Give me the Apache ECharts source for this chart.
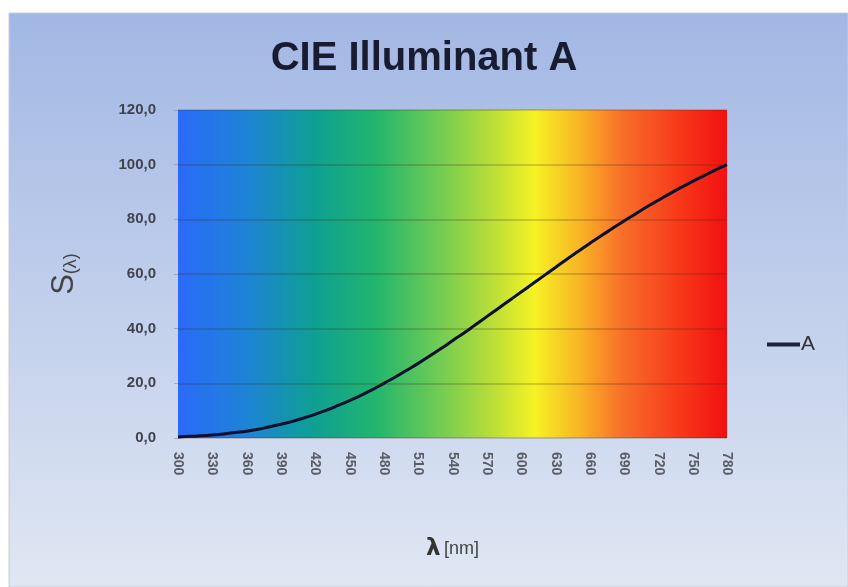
<!DOCTYPE html>
<html>
<head>
<meta charset="utf-8">
<title>CIE Illuminant A</title>
<script src="https://cdn.jsdelivr.net/npm/echarts@6/dist/echarts.min.js"></script>
<style>
  html, body { margin: 0; padding: 0; background: #fff; }
  #chart { width: 848px; height: 587px; }
</style>
</head>
<body>
<div id="chart"></div>
<script>
// wavelengths (nm) and relative power
const wavelengths = [300, 310, 320, 330, 340, 350, 360, 370, 380, 390, 400, 410, 420, 430, 440, 450, 460, 470, 480, 490, 500,
  510, 520, 530, 540, 550, 560, 570, 580, 590, 600, 610, 620, 630, 640, 650, 660, 670, 680, 690, 700, 710, 720, 730, 740, 750,
  760, 770, 780];
const valuesA = [0.4, 0.6, 0.8, 1.1, 1.5, 2.0, 2.5, 3.2, 4.1, 5.0, 6.1, 7.3, 8.7, 10.2, 11.9, 13.7, 15.6, 17.7, 20.0, 22.3, 24.8,
  27.3, 30.0, 32.7, 35.6, 38.4, 41.4, 44.4, 47.4, 50.4, 53.4, 56.4, 59.4, 62.4, 65.4, 68.3, 71.2, 74.0, 76.7, 79.4, 82.0, 84.6,
  87.0, 89.4, 91.7, 93.9, 96.0, 98.1, 100.0];
const yTicks = [0, 20, 40, 60, 80, 100, 120];

const chart = echarts.init(document.getElementById('chart'));

// spectrum behind the plot
const spectrum = new echarts.graphic.LinearGradient(0, 0, 1, 0, [
  { offset: 0.00, color: '#2a6af8' },
  { offset: 0.12, color: '#1e82d8' },
  { offset: 0.25, color: '#0ea092' },
  { offset: 0.36, color: '#22b56e' },
  { offset: 0.46, color: '#66c958' },
  { offset: 0.56, color: '#b0db3c' },
  { offset: 0.65, color: '#f6f224' },
  { offset: 0.73, color: '#f8b624' },
  { offset: 0.81, color: '#f86e2a' },
  { offset: 0.91, color: '#f73a1a' },
  { offset: 1.00, color: '#f21010' }
]);

const option = {
  backgroundColor: '#ffffff',
  animation: false,
  graphic: [{
    type: 'rect',
    z: -10,
    shape: { x: 9, y: 13, width: 839, height: 574 },
    style: {
      fill: new echarts.graphic.LinearGradient(0, 0, 0, 1, [
        { offset: 0, color: '#a2b7e4' },
        { offset: 1, color: '#e0e7f3' }
      ]),
      stroke: '#c8ccd4',
      lineWidth: 1
    }
  }],
  title: {
    text: 'CIE Illuminant A',
    left: 'center',
    top: 34,
    textStyle: {
      fontFamily: 'Liberation Sans',
      fontSize: 40,
      fontWeight: 'bold',
      color: '#191c30'
    }
  },
  legend: {
    left: 762,
    top: 329,
    icon: 'rect',
    itemWidth: 33,
    itemHeight: 4,
    itemGap: 4,
    textStyle: { fontFamily: 'Liberation Sans', fontSize: 21, color: '#333', padding: [0, 0, 0, -4] }
  },
  grid: {
    left: 178,
    right: 121,
    top: 110,
    bottom: 149,
    show: true,
    borderWidth: 0,
    backgroundColor: spectrum
  },
  xAxis: {
    type: 'value',
    min: 300,
    max: 780,
    interval: 30,
    name: '{l|λ} {u|[nm]}',
    nameLocation: 'middle',
    nameGap: 100,
    nameTextStyle: {
      rich: {
        l: { fontFamily: 'DejaVu Sans', fontSize: 23, fontWeight: 'bold', color: '#333' },
        u: { fontFamily: 'Liberation Sans', fontSize: 18, color: '#444' }
      }
    },
    axisLine: { show: false },
    axisTick: { show: false },
    splitLine: { show: false },
    axisLabel: {
      rotate: -90,
      margin: 14,
      fontFamily: 'Liberation Sans',
      fontSize: 14,
      fontWeight: 'bold',
      color: '#5a5d66'
    }
  },
  yAxis: {
    type: 'value',
    min: yTicks[0],
    max: yTicks[yTicks.length - 1],
    interval: 20,
    name: '{s|S}{sub|(λ)}',
    nameLocation: 'middle',
    nameGap: 98,
    nameRotate: 90,
    nameTextStyle: {
      rich: {
        s: { fontFamily: 'Liberation Sans', fontSize: 31, color: '#444' },
        sub: { fontFamily: 'Liberation Sans', fontSize: 18, color: '#444', verticalAlign: 'bottom', padding: [14, 0, 0, 0] }
      }
    },
    axisLine: { show: false },
    axisTick: { show: true, length: 4, lineStyle: { color: 'rgba(140, 140, 150, 0.6)' } },
    splitLine: { lineStyle: { color: 'rgba(60, 40, 20, 0.2)', width: 2 } },
    axisLabel: {
      margin: 22,
      fontFamily: 'Liberation Sans',
      fontSize: 15,
      fontWeight: 'bold',
      color: '#41444f',
      formatter: v => v.toFixed(1).replace('.', ',')
    }
  },
  series: [{
    name: 'A',
    type: 'line',
    smooth: true,
    showSymbol: false,
    data: wavelengths.map((w, i) => [w, valuesA[i]]),
    lineStyle: { color: '#0c0f2e', width: 3 },
    itemStyle: { color: '#1b2340' }
  }]
};

chart.setOption(option);
</script>
</body>
</html>
